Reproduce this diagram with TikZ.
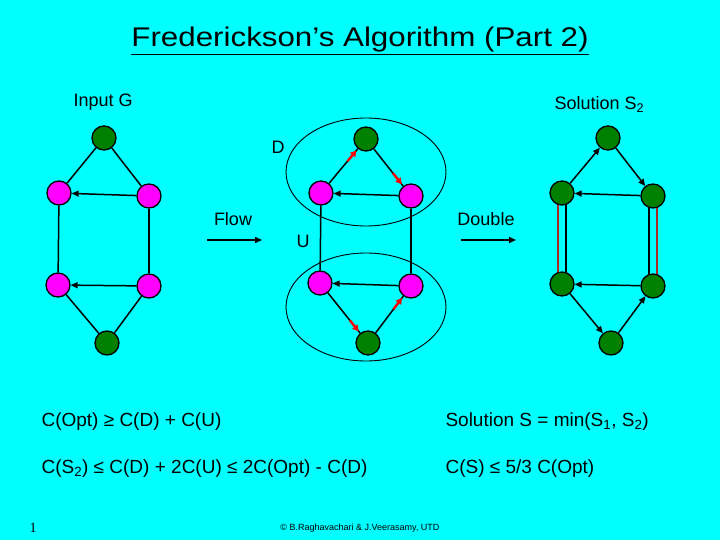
\documentclass[tikz,border=0pt]{standalone}
\usepackage{fontspec}
\setmainfont{Liberation Sans}
\newfontfamily\serifone{Liberation Serif}
\usetikzlibrary{arrows.meta,calc,backgrounds}
\definecolor{dgreen}{RGB}{0,128,0}
\definecolor{dred}{RGB}{170,40,40}
\definecolor{bg}{RGB}{0,255,255}
\definecolor{mag}{RGB}{255,0,255}
\definecolor{bred}{RGB}{255,0,0}
\begin{document}
\begin{tikzpicture}[x=1pt,y=-1pt,
  vtx/.style={circle,draw=black,line width=1.3pt,minimum size=24pt,inner sep=0pt},
  gv/.style={vtx,fill=dgreen},
  mv/.style={vtx,fill=mag},
  edge/.style={line width=1.5pt,black},
  arr/.style={edge,-{Triangle[length=7pt,width=6pt]}},
  redarr/.style={line width=2.4pt,draw=bred,-{Triangle[length=6pt,width=6.5pt]}},
  dbl/.style={line width=1.8pt,dred},
  lbl/.style={font=\fontsize{18}{20}\selectfont},
  body/.style={font=\fontsize{19}{22}\selectfont,anchor=base west},
  ell/.style={draw=black,line width=0.9pt}]
\useasboundingbox (0,0) rectangle (720,540);
% left graph
\node[gv] (a1) at (104,138) {};
\node[mv] (a2) at (59,193) {};
\node[mv] (a3) at (149,196) {};
\node[mv] (a4) at (58,285) {};
\node[mv] (a5) at (149,286) {};
\node[gv] (a6) at (107,343) {};
% middle graph
\node[gv] (b1) at (366,139) {};
\node[mv] (b2) at (321,193) {};
\node[mv] (b3) at (411,196) {};
\node[mv] (b4) at (320,283) {};
\node[mv] (b5) at (411,286) {};
\node[gv] (b6) at (368,343) {};
% right graph
\node[gv] (c1) at (608,138) {};
\node[gv] (c2) at (562,193) {};
\node[gv] (c3) at (653,196) {};
\node[gv] (c4) at (562,284) {};
\node[gv] (c5) at (653,286) {};
\node[gv] (c6) at (611,343) {};
\begin{scope}[on background layer]
\fill[bg] (0,0) rectangle (720,540);
% left edges
\draw[edge] (a1) -- (a2);
\draw[edge] (a1) -- (a3);
\draw[arr] (a3) -- (a2);
\draw[edge] (a2) -- (a4);
\draw[edge] (a3) -- (a5);
\draw[arr] (a5) -- (a4);
\draw[edge] (a4) -- (a6);
\draw[edge] (a5) -- (a6);
% middle edges
\draw[ell] (366,172) ellipse [x radius=80, y radius=54];
\draw[ell] (366,307) ellipse [x radius=80, y radius=54];
\draw[edge] (b2) -- (b1);
\draw[edge] (b1) -- (b3);
\draw[arr] (b3) -- (b2);
\draw[edge] (b2) -- (b4);
\draw[edge] (b3) -- (b5);
\draw[arr] (b5) -- (b4);
\draw[edge] (b4) -- (b6);
\draw[edge] (b6) -- (b5);
% right edges
\draw[arr] (c2) -- (c1);
\draw[arr] (c1) -- (c3);
\draw[arr] (c3) -- (c2);
\draw[arr] (c5) -- (c4);
\draw[arr] (c4) -- (c6);
\draw[arr] (c6) -- (c5);
\draw[edge] ($(c2.center)+(4,0)$) -- ($(c4.center)+(4,0)$);
\draw[dbl] ($(c2.center)+(-4,0)$) -- ($(c4.center)+(-4,0)$);
\draw[edge] ($(c3.center)+(-4,0)$) -- ($(c5.center)+(-4,0)$);
\draw[dbl] ($(c3.center)+(4,0)$) -- ($(c5.center)+(4,0)$);
\end{scope}
% red direction marks on middle graph
\draw[redarr] ($(b1)!29pt!(b2)$) -- ($(b1)!15pt!(b2)$);
\draw[redarr] ($(b3)!29pt!(b1)$) -- ($(b3)!15pt!(b1)$);
\draw[redarr] ($(b6)!29pt!(b4)$) -- ($(b6)!15pt!(b4)$);
\draw[redarr] ($(b5)!29pt!(b6)$) -- ($(b5)!15pt!(b6)$);
% title
\node[font=\fontsize{27}{30}\selectfont\addfontfeature{FakeStretch=1.16},anchor=base] (title) at (360,47) {\underline{Frederickson’s Algorithm (Part 2)}};
% labels
\node[lbl,anchor=base west] (inG) at (70,107) {Input G};
\node[lbl,anchor=base west] (solS2) at (551,110) {Solution S\textsubscript{2}};
\node[lbl] (lD) at (278,147) {D};
\node[lbl] (lU) at (303,241) {U};
\node[lbl] (lflow) at (233,219) {Flow};
\node[lbl] (ldouble) at (486,219) {Double};
\coordinate (f1) at (207,240); \coordinate (f2) at (262,240);
\coordinate (d1) at (461,240); \coordinate (d2) at (516,240);
\draw[arr] (f1) -- (f2);
\draw[arr] (d1) -- (d2);
% bottom text
\node[body] (t1) at (38,426) {C(Opt) ≥ C(D) + C(U)};
\node[body] (t2) at (38,473) {C(S\textsubscript{2}) ≤ C(D) + 2C(U) ≤ 2C(Opt) - C(D)};
\node[body] (t3) at (442,426) {Solution S = min(S\textsubscript{1}, S\textsubscript{2})};
\node[body] (t4) at (442,473) {C(S) ≤ 5/3 C(Opt)};
% footer
\node[font=\serifone\fontsize{14}{16}\selectfont] (pg) at (33,528) {1};
\node[font=\fontsize{9}{10}\selectfont] (foot) at (360,528) {© B.Raghavachari \& J.Veerasamy, UTD};
\end{tikzpicture}
\end{document}
